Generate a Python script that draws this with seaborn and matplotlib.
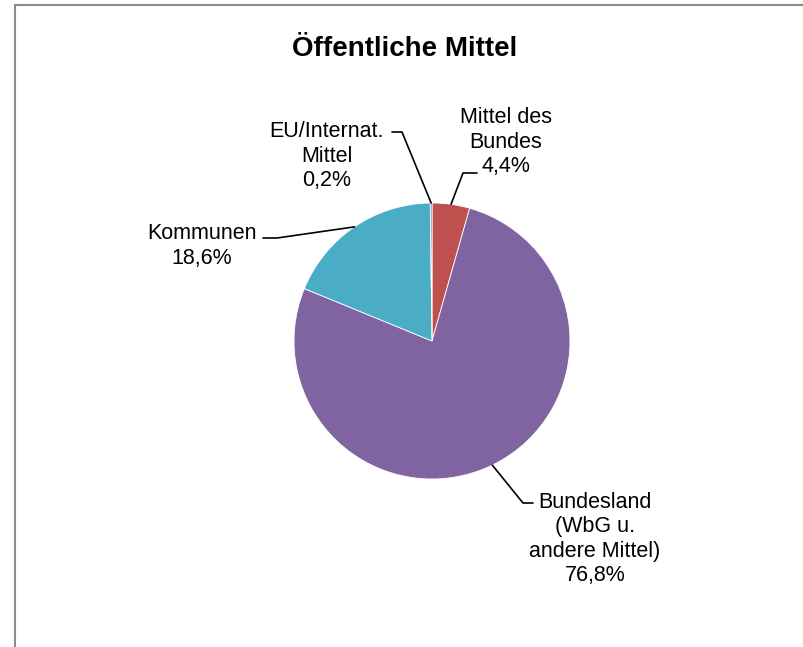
import numpy as np
import matplotlib
matplotlib.use("Agg")
import matplotlib.pyplot as plt
import seaborn as sns

# data
labels = ["Mittel des\nBundes", "Bundesland\n(WbG u.\nandere Mittel)", "Kommunen", "EU/Internat.\nMittel"]
shares = [4.4, 76.8, 18.6, 0.2]
colors = ["#C0504D", "#8064A2", "#4BACC6", "#4F81BD"]

# label layout in pixels: text centre, leader elbow, leader end at text
text_pos = [(506, 142), (595, 539), (202, 246), (327, 156)]
elbows = [(463, 173), (523, 503), (277, 238), (402, 132)]
ends = [(477, 173), (533, 503), (263, 238), (392, 132)]

sns.set_theme(style="white")
plt.rcParams["font.family"] = ["Liberation Sans", "DejaVu Sans"]
plt.rcParams["text.color"] = "black"

CX, CY, R = 432, 341, 138


def px(p):
    return ((p[0] - CX) / R, (CY - p[1]) / R)


fig = plt.figure(figsize=(8.04, 6.47), dpi=100)
ax = fig.add_axes([0, 0, 1, 1])
wedges, _ = ax.pie(shares, colors=colors, startangle=90, counterclock=False,
                   radius=1, center=(0, 0),
                   wedgeprops=dict(edgecolor="white", linewidth=0.6))
ax.set_xlim(-CX / R, (804 - CX) / R)
ax.set_ylim((CY - 647) / R, CY / R)
ax.set_aspect("auto")
ax.axis("off")

for w, lab, v, tp, el, en in zip(wedges, labels, shares, text_pos, elbows, ends):
    mid = np.deg2rad((w.theta1 + w.theta2) / 2)
    edge = (np.cos(mid), np.sin(mid))
    e1, e2 = px(el), px(en)
    ax.plot([edge[0], e1[0], e2[0]], [edge[1], e1[1], e2[1]], color="black", lw=1.2)
    t = px(tp)
    pct = f"{v:.1f}".replace(".", ",")
    ax.text(t[0], t[1], f"{lab}\n{pct}%", ha="center", va="center",
            fontsize=15.5, linespacing=1.2, color="black")

fig.text(405 / 804, 1 - 49 / 647, "Öffentliche Mittel", ha="center", va="center",
         fontsize=20, fontweight="bold", color="black")

# chart frame (only left and top visible in the crop)
fig.patches.append(plt.Rectangle((15 / 804, -0.1), 1.2, 1 - 5 / 647 + 0.1,
                                 transform=fig.transFigure, fill=False,
                                 edgecolor="#8c8c8c", lw=1.5))

fig.savefig("out.png", dpi=100)
